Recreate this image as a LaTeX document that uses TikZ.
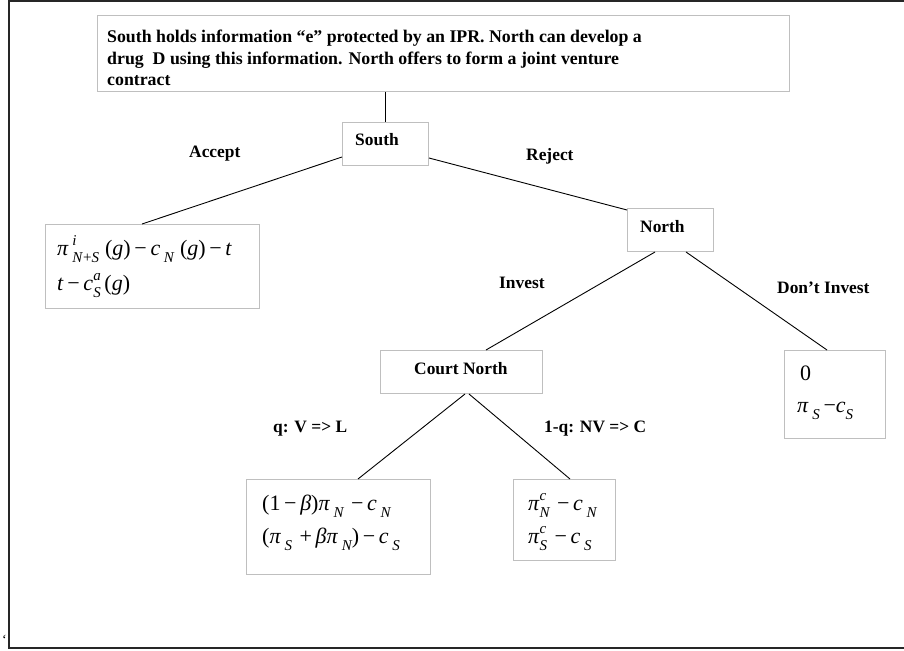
\documentclass[tikz,border=0pt]{standalone}
\usepackage{fontspec}
\setmainfont{Liberation Serif}
\newcommand\ssz{\fontsize{15}{15}\selectfont\itshape}
\newcommand\sub[1]{\raisebox{-0.34em}{\ssz #1}}
\newcommand\sbsp[2]{\makebox[0pt][l]{\raisebox{0.45em}{\ssz #1}}\sub{#2}}
\newcommand\I[1]{\textit{#1}}
\tikzset{
  box/.style={draw=black!25, line width=1pt, anchor=north west, inner sep=0pt},
  conn/.style={draw=black, line width=0.9pt},
  lbl/.style={anchor=base west, inner sep=0pt, font=\fontsize{17.4}{21}\selectfont\bfseries},
  toptxt/.style={anchor=base west, inner sep=0pt, font=\fontsize{17.8}{21}\selectfont\bfseries},
  mth/.style={anchor=base west, inner sep=0pt, font=\fontsize{22}{26}\selectfont},
  frame/.style={draw=black!85, line width=1.8pt}
}
\begin{document}
\begin{tikzpicture}[x=1pt,y=-1pt]
\useasboundingbox (0,0) rectangle (904,650);
% outer frame
\coordinate (f2) at (904,1);
\coordinate (f4) at (904,648);
\draw[frame] (f2) -- (9,1) -- (9,648) -- (f4);
\node[anchor=base west, inner sep=0pt, font=\fontsize{14}{14}\selectfont] (tick) at (2,644) {`};
% boxes
\node[box, minimum width=692pt, minimum height=76pt] (top) at (97,15) {};
\node[box, minimum width=86pt, minimum height=43pt] (south) at (342,122) {};
\node[box, minimum width=214pt, minimum height=84pt] (pa) at (45,224) {};
\node[box, minimum width=86pt, minimum height=43pt] (north) at (627,208) {};
\node[box, minimum width=162pt, minimum height=43pt] (court) at (380,350) {};
\node[box, minimum width=101pt, minimum height=88pt] (pdi) at (784,350) {};
\node[box, minimum width=184pt, minimum height=95pt] (pl) at (246,479) {};
\node[box, minimum width=102pt, minimum height=81pt] (pr) at (513,479) {};
% texts
\node[toptxt] (t1) at (107,43) {South holds information “e” protected by an IPR. North can develop a};
\node[toptxt] (t2) at (107,65) {drug\ \ D using this information. North offers to form a joint venture};
\node[toptxt] (t3) at (107,86) {contract};
\node[lbl] (ts) at (355,146) {South};
\node[lbl] (tn) at (640,232) {North};
\node[lbl] (tc) at (414,374) {Court North};
\node[lbl] (la) at (189,157) {Accept};
\node[lbl] (lr) at (526,160) {Reject};
\node[lbl] (li) at (499,288) {Invest};
\node[lbl] (ld) at (777,293) {Don’t Invest};
\node[lbl] (lq) at (273,432) {q: V => L};
\node[lbl] (lnq) at (544,432) {1-q: NV => C};
% payoffs
\node[mth] (a1) at (57,255) {\I{π}\,\sbsp{i}{N\textup{+}S}\;(\I{g})\,−\,\I{c}\,\sub{N}\;(\I{g})\,−\,\I{t}};
\node[mth] (a2) at (57,290) {\I{t}\,−\,\I{c}\sbsp{a}{S}\,(\I{g})};
\node[mth] (d1) at (800,380) {0};
\node[mth] (d2) at (797,412) {\I{π}\,\sub{S}\,−\I{c}\sub{S}};
\node[mth] (l1) at (262,510) {(1\,−\,\I{β})\I{π}\,\sub{N}\,\,−\,\I{c}\,\sub{N}};
\node[mth] (l2) at (262,543) {(\I{π}\,\sub{S}\,\,+\,\I{βπ}\,\sub{N})\,−\,\I{c}\,\sub{S}};
\node[mth] (r1) at (528,510) {\I{π}\sbsp{c}{N}\,\,−\,\I{c}\,\sub{N}};
\node[mth] (r2) at (528,543) {\I{π}\sbsp{c}{S}\,\,−\,\I{c}\,\sub{S}};
% connectors
\draw[conn] (top.south -| 385,0) -- (south.north -| 385,0);
\draw[conn] (south.west |- 0,157) -- (pa.north -| 142,0);
\draw[conn] (south.east |- 0,158) -- (north.west |- 0,210);
\draw[conn] (north.south -| 655,0) -- (court.north -| 486,0);
\draw[conn] (north.south -| 686,0) -- (pdi.north -| 827,0);
\draw[conn] (court.south -| 465,0) -- (pl.north -| 358,0);
\draw[conn] (court.south -| 469,0) -- (pr.north -| 570,0);
\end{tikzpicture}
\end{document}
